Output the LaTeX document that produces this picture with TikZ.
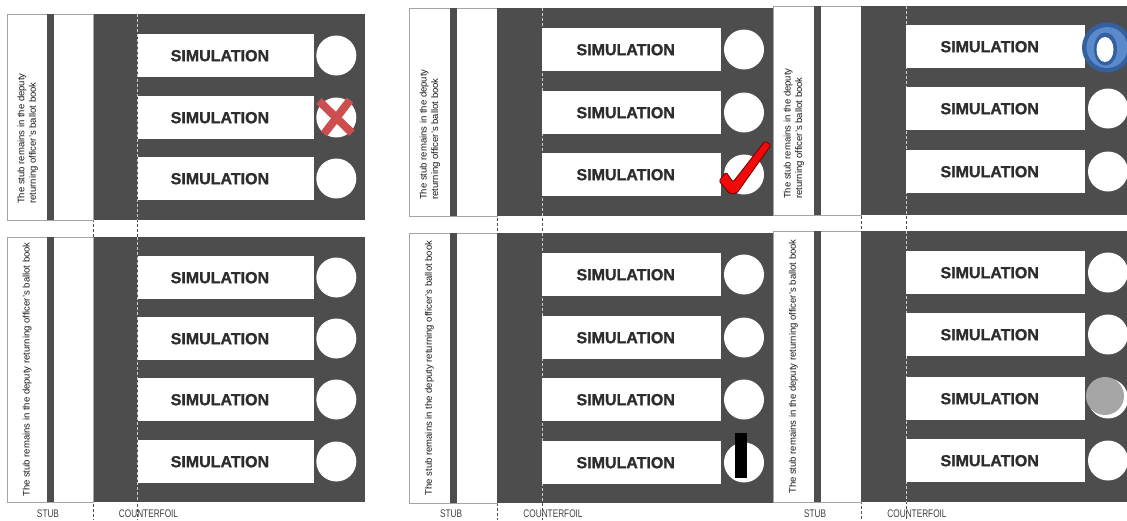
\documentclass[tikz,border=0pt]{standalone}
\usepackage{fontspec}
\setmainfont{Liberation Sans}
\newfontfamily\narrowfont[FakeStretch=0.75]{Liberation Sans}
\newfontfamily\heavyfont[FakeBold=1.2]{Liberation Sans Bold}
\definecolor{panelgray}{RGB}{77,77,77}
\definecolor{edgegray}{RGB}{165,165,165}
\definecolor{labeltext}{RGB}{45,45,45}
\definecolor{xred}{RGB}{205,78,78}
\definecolor{tickred}{RGB}{240,10,10}
\definecolor{tickdark}{RGB}{110,0,0}
\definecolor{ringdark}{RGB}{52,96,160}
\definecolor{ringlight}{RGB}{90,138,202}
\definecolor{dotgray}{RGB}{166,166,166}
\tikzset{
  simbox/.style={fill=white, draw=none, inner sep=0pt, anchor=north west, minimum height=43pt},
  simtext/.style={font=\heavyfont\fontsize{16}{18}\selectfont, text=labeltext, inner sep=0pt},
  votehole/.style={circle, fill=white, draw=none, inner sep=0pt, minimum size=40pt},
  stubtext/.style={font=\fontsize{9.5}{11.5}\selectfont, text=black!90, inner sep=0pt},
  cutdark/.style={dash pattern=on 3pt off 2pt, line width=0.6pt, draw=black!70},
  cutlight/.style={dash pattern=on 3pt off 2pt, line width=0.5pt, draw=white!80!black},
  footlabel/.style={font=\narrowfont\fontsize{11}{13}\selectfont, text=black!75, inner sep=0pt},
  panelfill/.style={fill=panelgray},
  stubfill/.style={fill=white, draw=edgegray, line width=0.6pt}
}
% #1 name, #2 left, #3 top, #4 bottom, #5 x-scale, #6 row tops, #7 stub lines (1 or 2)
\newcommand{\ballotpanel}[7]{%
  \pgfmathsetmacro{\sA}{#2+41*#5}%
  \pgfmathsetmacro{\sB}{#2+48*#5}%
  \pgfmathsetmacro{\wE}{#2+88*#5}%
  \pgfmathsetmacro{\bA}{#2+133*#5}%
  \pgfmathsetmacro{\bW}{179*#5}%
  \pgfmathsetmacro{\cX}{#2+335*#5}%
  \pgfmathsetmacro{\pR}{#2+364*#5}%
  \pgfmathsetmacro{\dB}{#2+133*#5}%
  \path[stubfill] (#2,#3) rectangle (\wE,#4);
  \path[panelfill] (\sA,#3) rectangle (\sB,#4);
  \path[panelfill] (\wE,#3) rectangle (\pR,#4);
  \draw[cutlight] (\dB,#3) -- (\dB,#4);
  \foreach \y [count=\i] in {#6} {
    \node[simbox, minimum width=\bW pt] (#1-box\i) at (\bA,\y) {};
    \node[simtext] (#1-txt\i) at ([xshift=-6pt]#1-box\i.center) {SIMULATION};
    \node[votehole] (#1-c\i) at (\cX,{\y+21.5}) {};
  }
  \ifnum#7=2
    \node[stubtext, rotate=90, anchor=west, align=left] (#1-stub) at ({#2+21*#5},{#4-16})
      {The stub remains in the deputy\\returning officer’s ballot book};
  \else
    \node[stubtext, rotate=90] (#1-stub) at ({#2+20.5*#5},{(#3+#4)/2})
      {The stub remains in the deputy returning officer’s ballot book};
  \fi
}
\begin{document}
\begin{tikzpicture}[x=1pt,y=-1pt]
\useasboundingbox (0,0) rectangle (1127,520);
\clip (0,0) rectangle (1127,520);
\fill[white] (0,0) rectangle (1127,520);
% cut lines (visible in the gaps)
\draw[cutdark] (93.5,14) -- (93.5,520);
\draw[cutdark] (137.7,14) -- (137.7,520);
\draw[cutdark] (497,8) -- (497,520);
\draw[cutdark] (542,8) -- (542,520);
\draw[cutdark] (861,6) -- (861,520);
\draw[cutdark] (906,6) -- (906,520);
% panels
\ballotpanel{tl}{7}{14}{220}{0.983}{34,96,157}{2}
\ballotpanel{tm}{409}{8}{216}{1}{28,91,153}{2}
\ballotpanel{tr}{773}{6}{215}{1}{25,87,150}{2}
\ballotpanel{bl}{7}{237}{502}{0.983}{256,317,378,440}{1}
\ballotpanel{bm}{409}{233}{503}{1}{253,316,378,441}{1}
\ballotpanel{br}{773}{231}{502}{1}{251,313,377,439}{1}
% marks
\draw[xred, line width=8pt] (319,101) -- (352,133);
\draw[xred, line width=8pt] (350,100) -- (324,134);
\filldraw[fill=tickred, draw=tickdark, line width=0.8pt, rounded corners=1.5pt]
  (719,181) -- (726,172) -- (733,182) -- (765,141) -- (771,145) -- (737,193) -- (730,194) -- cycle;
\fill[ringdark] (1107,47.5) circle (25pt);
\fill[ringlight] (1107,47.5) circle (20.5pt);
\fill[ringdark] (1105.5,49) ellipse [x radius=11.5pt, y radius=16.5pt];
\fill[white] (1105,49.5) ellipse [x radius=8.5pt, y radius=12.5pt];
\fill[black] (735,433) rectangle (747,478);
\fill[dotgray] (1105,396) circle (19pt);
% footer labels
\node[footlabel] (stub1) at (48,514) {STUB};
\node[footlabel] (cf1) at (148.5,514) {COUNTERFOIL};
\node[footlabel] (stub2) at (451,514) {STUB};
\node[footlabel] (cf2) at (553,514) {COUNTERFOIL};
\node[footlabel] (stub3) at (815,514) {STUB};
\node[footlabel] (cf3) at (917,514) {COUNTERFOIL};
\end{tikzpicture}
\end{document}
